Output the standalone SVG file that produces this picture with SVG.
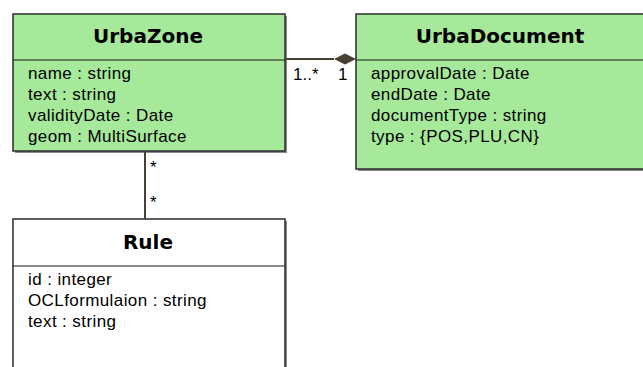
<svg xmlns="http://www.w3.org/2000/svg" width="643" height="367" viewBox="0 0 643 367">
<defs>
<style>
.box{stroke:#2b2b2b;stroke-width:1.5}
.green{fill:#a6e99b}
.white{fill:#ffffff}
.shadow{fill:#8a8a8a}
.sep{stroke:#1a1a1a;stroke-width:1.2}
.title{font-family:"DejaVu Sans",Verdana,sans-serif;font-weight:bold;font-size:20px;fill:#000;text-anchor:middle}
.attr{font-family:"Liberation Sans",Arial,sans-serif;font-size:17px;letter-spacing:0.4px;fill:#000}
.mult{font-family:"Liberation Sans",Arial,sans-serif;font-size:17px;fill:#000}
.line{stroke:#4a3f35;stroke-width:2;fill:none}
</style>
</defs>
<rect width="643" height="367" fill="#ffffff"/>
<g id="UrbaZone">
<rect class="shadow" x="15" y="16" width="272" height="137"/>
<rect class="box green" x="13" y="14" width="272" height="137"/>
<line class="sep" x1="13" y1="60" x2="285" y2="60"/>
<text class="title" x="148" y="43">UrbaZone</text>
<text class="attr" x="28" y="79">name : string</text>
<text class="attr" x="28" y="100">text : string</text>
<text class="attr" x="28" y="121">validityDate : Date</text>
<text class="attr" x="28" y="142">geom : MultiSurface</text>
</g>
<g id="UrbaDocument">
<rect class="shadow" x="358" y="16" width="290" height="155"/>
<rect class="box green" x="356" y="14" width="292" height="155"/>
<line class="sep" x1="356" y1="60" x2="643" y2="60"/>
<text class="title" x="500" y="43">UrbaDocument</text>
<text class="attr" x="371" y="79">approvalDate : Date</text>
<text class="attr" x="371" y="100">endDate : Date</text>
<text class="attr" x="371" y="121">documentType : string</text>
<text class="attr" x="371" y="142">type : {POS,PLU,CN}</text>
</g>
<g id="Rule">
<rect class="shadow" x="15" y="221" width="272" height="160"/>
<rect class="box white" x="13" y="219" width="272" height="160"/>
<line class="sep" x1="13" y1="266" x2="285" y2="266"/>
<text class="title" x="148" y="249">Rule</text>
<text class="attr" x="28" y="285">id : integer</text>
<text class="attr" x="28" y="306">OCLformulaion : string</text>
<text class="attr" x="28" y="327">text : string</text>
</g>
<g id="connectors">
<line class="line" x1="286" y1="59" x2="334" y2="59"/>
<polygon points="334,59 345,53.5 356,59 345,64.5" fill="#4a3f35"/>
<text class="mult" x="293" y="80">1..*</text>
<text class="mult" x="338" y="80">1</text>
<line class="line" x1="145" y1="152" x2="145" y2="219"/>
<text class="mult" x="150" y="173">*</text>
<text class="mult" x="150" y="208">*</text>
</g>
</svg>
